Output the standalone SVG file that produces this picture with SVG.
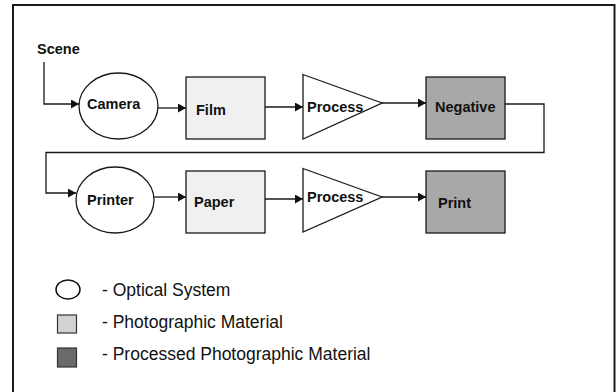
<svg xmlns="http://www.w3.org/2000/svg" width="616" height="392" viewBox="0 0 616 392">
  <style>
    .lbl { font-family: "Liberation Sans", Arial, sans-serif; font-weight: bold; font-size: 14.5px; fill: #111; }
    .leg { font-family: "Liberation Sans", Arial, sans-serif; font-size: 17.5px; fill: #111; }
    .edge { fill: none; stroke: #1a1a1a; stroke-width: 1.3; }
    .shape { stroke: #1a1a1a; stroke-width: 1.3; }
    .optical { fill: #ffffff; }
    .material { fill: #f0f0f0; }
    .processed { fill: #a8a8a8; }
    .proc { fill: #ffffff; }
  </style>
  <defs>
    <marker id="arrow" markerUnits="userSpaceOnUse" markerWidth="9" markerHeight="9" refX="8" refY="4.5" orient="auto">
      <path d="M0,0 L8,4.5 L0,9 z" fill="#111"/>
    </marker>
  </defs>

  <rect width="616" height="392" fill="#ffffff"/>

  <!-- frame -->
  <path d="M13,400 L13,5 L614.5,5 L614.5,400" fill="none" stroke="#1a1a1a" stroke-width="2"/>

  <!-- connectors -->
  <g id="connectors">
    <polyline class="edge" points="44,62 44,104 79,104" marker-end="url(#arrow)"/>
    <line class="edge" x1="158" y1="108" x2="186" y2="108" marker-end="url(#arrow)"/>
    <line class="edge" x1="265" y1="107" x2="303" y2="107" marker-end="url(#arrow)"/>
    <line class="edge" x1="382" y1="103" x2="426" y2="103" marker-end="url(#arrow)"/>
    <polyline class="edge" points="505,104 544,104 544,152.5 46,152.5 46,193 76,193" marker-end="url(#arrow)"/>
    <line class="edge" x1="154" y1="197" x2="186" y2="197" marker-end="url(#arrow)"/>
    <line class="edge" x1="265" y1="199" x2="303" y2="199" marker-end="url(#arrow)"/>
    <line class="edge" x1="382" y1="197" x2="426" y2="197" marker-end="url(#arrow)"/>
  </g>

  <g id="scene">
    <text class="lbl" x="37" y="54">Scene</text>
  </g>

  <g id="camera">
    <ellipse class="shape optical" cx="118.5" cy="106" rx="39.5" ry="33"/>
    <text class="lbl" x="87" y="109">Camera</text>
  </g>

  <g id="film">
    <rect class="shape material" x="186" y="77" width="79" height="62"/>
    <text class="lbl" x="196" y="115">Film</text>
  </g>

  <g id="process1">
    <polygon class="shape proc" points="303,74.5 382,103 303,139"/>
    <text class="lbl" x="307" y="112">Process</text>
  </g>

  <g id="negative">
    <rect class="shape processed" x="426" y="77" width="79" height="62"/>
    <text class="lbl" x="435" y="112">Negative</text>
  </g>

  <g id="printer">
    <ellipse class="shape optical" cx="115" cy="200" rx="39" ry="33"/>
    <text class="lbl" x="87" y="205">Printer</text>
  </g>

  <g id="paper">
    <rect class="shape material" x="186" y="171" width="79" height="62"/>
    <text class="lbl" x="194" y="207">Paper</text>
  </g>

  <g id="process2">
    <polygon class="shape proc" points="303,168.5 382,197 303,232"/>
    <text class="lbl" x="307" y="202">Process</text>
  </g>

  <g id="print">
    <rect class="shape processed" x="426" y="171" width="79" height="62"/>
    <text class="lbl" x="438" y="208">Print</text>
  </g>

  <!-- legend -->
  <g id="legend">
    <ellipse cx="68" cy="289.5" rx="12" ry="9.5" fill="#ffffff" stroke="#111" stroke-width="1.5"/>
    <text class="leg" x="102" y="296">- Optical System</text>
    <rect x="57.5" y="315" width="19" height="18" fill="#d2d2d2" stroke="#333" stroke-width="1.2"/>
    <text class="leg" x="102" y="328">- Photographic Material</text>
    <rect x="57.5" y="348" width="19" height="19" fill="#6a6a6a" stroke="#333" stroke-width="1.2"/>
    <text class="leg" x="102" y="360">- Processed Photographic Material</text>
  </g>
</svg>
